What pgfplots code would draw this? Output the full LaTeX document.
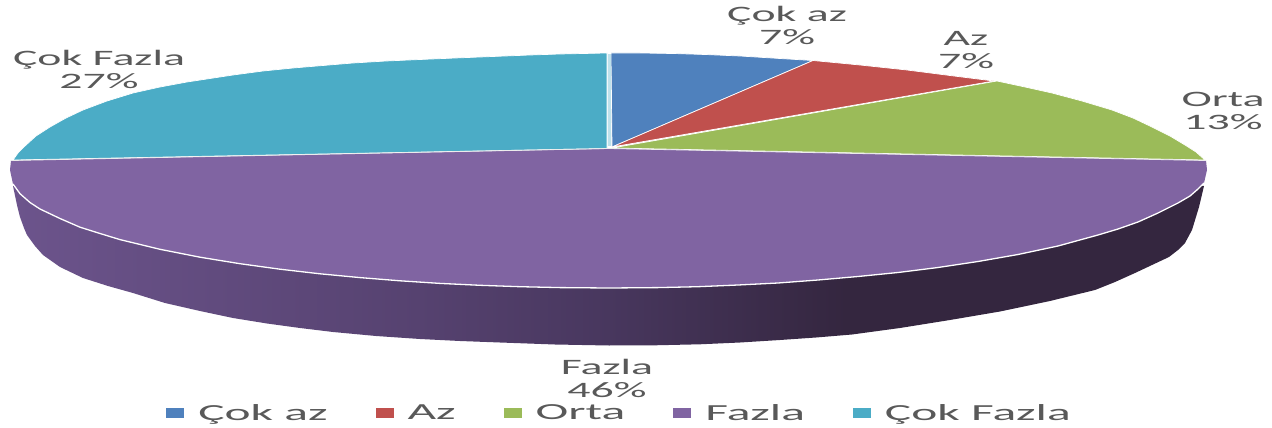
\documentclass[border=0pt]{standalone}
\usepackage{pgfplots}
\usepackage{fontspec}
\setmainfont{Carlito}
\pgfplotsset{compat=1.18}
\definecolor{cA}{HTML}{4F81BD}
\definecolor{cB}{HTML}{C0504D}
\definecolor{cC}{HTML}{9BBB59}
\definecolor{cD}{HTML}{8064A2}
\definecolor{cE}{HTML}{4BACC6}
\definecolor{txt}{HTML}{595959}
\definecolor{g1}{RGB}{108,84,140}
\definecolor{g2}{RGB}{86,66,112}
\definecolor{g3}{RGB}{72,55,94}
\definecolor{g4}{RGB}{52,38,63}
\pgfdeclarehorizontalshading{sidegrad}{100bp}{
 color(0bp)=(g1);
 color(25bp)=(g1);
 color(42bp)=(g2);
 color(50bp)=(g3);
 color(60bp)=(g4);
 color(100bp)=(g4)}
\newcommand{\sx}[1]{\scalebox{2.08}[1]{#1}}
\newcommand{\lx}[1]{\scalebox{2.15}[1]{#1}}
\begin{document}
\begin{tikzpicture}
\begin{axis}[
  scale only axis, width=1272pt, height=428pt,
  xmin=0, xmax=1272, ymin=0, ymax=428, y dir=reverse,
  hide axis, clip=false, no markers,
  legend columns=5,
  legend style={draw=none, fill=none, at={(axis cs:619.5,413)}, anchor=center,
    font=\fontsize{23}{25}\selectfont, text=txt, inner sep=0pt,
    /tikz/every even column/.append style={column sep=46pt},
    /tikz/every odd column/.append style={column sep=12pt}},
  legend cell align=left,
  legend image code/.code={\fill[#1,draw=none] (0pt,-5pt) rectangle (18pt,5pt);},
]
\path (axis cs:0,0) rectangle (axis cs:1272,428);
% side of the Fazla slice
\addplot[forget plot, draw=none, shading=sidegrad] coordinates {
(13,186)(17,205)(20,217)(24,228)(27,235)(35,246)(43,255)(60,267)(83,278)(108,286)(133,293)(165,303)(200,311)(233,318)(267,323.5)(300,328)(333,332)(376,336)(420,339)(460,341)(500,342.5)(555,344.5)(609,345.5)(655,345.3)(700,344.3)(740,342.5)(780,340)(816,337.5)(852,334.5)(900,328)(950,320)(1000,311.5)(1050,301)(1095,290)(1115,282)(1135,273)(1152,265)(1169,257)(1178,250)(1185,243)(1192,230)(1199,207)(1204,186)(609,170)(13,186)};
% top surfaces
\addplot[fill=cA, draw=white, line width=0.7pt] coordinates {
(612,147)(611,53)(640,53)(673,53.5)(705,54.5)(740,56)(780,58.5)(813,60.5)(612,147)};
\addlegendentry{\lx{Çok az}}
\addplot[fill=cB, draw=white, line width=0.7pt] coordinates {
(612,147)(813,60.5)(860,65)(907,70)(950,75.5)(994,81)(612,147)};
\addlegendentry{\lx{Az}}
\addplot[fill=cC, draw=white, line width=0.7pt] coordinates {
(612,148)(997,81)(1025,87)(1052,93)(1082,101)(1112,110)(1133,118)(1152,127)(1170,136)(1185,145)(1196,152)(1205,160)(612,148)};
\addlegendentry{\lx{Orta}}
\addplot[fill=cD, draw=none] coordinates {
(609,148.5)(1206,160.5)(1207,170)(1204,183)(1198,189)(1190,196)(1178,203)(1158,213)(1138,222)(1118,229)(1098,235)(1058,246)(1018,254.5)(978,261.5)(938,267.5)(898,272.5)(858,276.5)(818,280)(778,283)(738,285)(698,286.7)(658,287.6)(609,288)(560,287.6)(520,286.7)(480,285.3)(440,283.4)(400,280.8)(360,277.6)(320,273.8)(280,269.2)(240,263.7)(200,257.2)(160,249.3)(120,239.6)(100,233.5)(80,227.2)(60,218.5)(40,209)(30,202.5)(20,193.7)(13,184)(10,170)(11,160.5)(609,148.5)};
\addlegendentry{\lx{Fazla}}
\addplot[fill=cE, draw=white, line width=0.7pt] coordinates {
(607,148.5)(13,160)(18,153)(25,146)(36,136)(50,127)(66,118)(83,110)(107,101)(133,93)(160,87)(187,82)(210,78.5)(233,75)(263,71)(293,68)(323,65.5)(353,63)(386,61)(420,59.5)(460,57.8)(500,56.2)(530,55)(560,54)(607,53)(607,148.5)};
\addlegendentry{\lx{Çok Fazla}}
% white rim and seam lines of the Fazla slice
\addplot[forget plot, white, line width=1.3pt] coordinates {
(13,184)(20,193.7)(30,202.5)(40,209)(60,218.5)(80,227.2)(100,233.5)(120,239.6)(160,249.3)(200,257.2)(240,263.7)(280,269.2)(320,273.8)(360,277.6)(400,280.8)(440,283.4)(480,285.3)(520,286.7)(560,287.6)(609,288)(658,287.6)(698,286.7)(738,285)(778,283)(818,280)(858,276.5)(898,272.5)(938,267.5)(978,261.5)(1018,254.5)(1058,246)(1098,235)(1118,229)(1138,222)(1158,213)(1178,203)(1190,196)(1198,189)(1204,183)};
\addplot[forget plot, color=white!85!gray, line width=0.8pt] coordinates {(11,160.5)(609,148.5)(1206,160.5)};
\addplot[forget plot, color={rgb,255:red,190;green,225;blue,235}, line width=3pt] coordinates {(609,54)(609,146)};
\begin{scope}[every node/.style={text=txt, align=center, font=\fontsize{22}{23}\selectfont}]
\node at (axis cs:787,25) {\sx{Çok az}\\\sx{7\%}};
\node at (axis cs:966,50) {\sx{Az}\\\sx{7\%}};
\node at (axis cs:1223,111) {\sx{Orta}\\\sx{13\%}};
\node at (axis cs:99,69) {\sx{Çok Fazla}\\\sx{27\%}};
\node at (axis cs:607,378) {\sx{Fazla}\\\sx{46\%}};
\end{scope}
\end{axis}
\end{tikzpicture}
\end{document}
